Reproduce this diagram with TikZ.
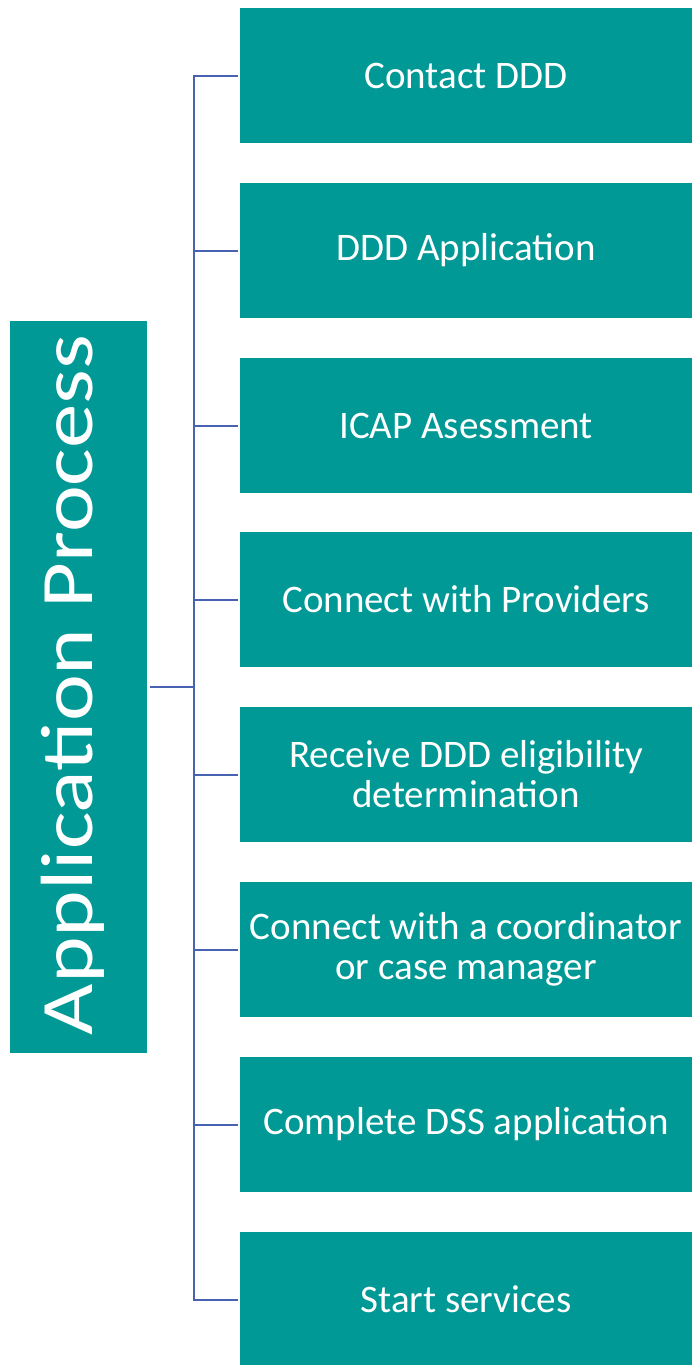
\documentclass[tikz,border=0pt]{standalone}
\usepackage{fontspec}
\setmainfont{Carlito}
\definecolor{tealbox}{RGB}{0,153,150}
\definecolor{linkblue}{RGB}{70,98,176}
\tikzset{
  stepbox/.style={fill=tealbox, draw=none, minimum width=452pt, minimum height=135pt,
    inner sep=0pt, text=white, align=center, font=\fontsize{39}{40}\selectfont},
  conn/.style={draw=linkblue, line width=2pt, line join=miter},
}
\begin{document}
\begin{tikzpicture}[x=1pt,y=-1pt]
\useasboundingbox (0,0) rectangle (692,1365);
% left box
\node[fill=tealbox, minimum width=137pt, minimum height=732.5pt, inner sep=0pt] (app) at (78.5,687) {};
\node[rotate=90, anchor=base, text=white, inner sep=0pt] (apptext) at (92,685)
  {\scalebox{1.2}[1]{\fontsize{74}{74}\selectfont Application Process}};
% right boxes
\node[stepbox] (b1) at (466,75.5) {Contact DDD};
\node[stepbox] (b2) at (466,250.5) {DDD Application};
\node[stepbox] (b3) at (466,425.5) {ICAP Asessment};
\node[stepbox] (b4) at (466,599.5) {Connect with Providers};
\node[stepbox] (b5) at (466,774.5) {Receive DDD eligibility\\determination};
\node[stepbox] (b6) at (466,949.5) {Connect with a coordinator\\or case manager};
\node[stepbox] (b7) at (466,1124.5) {Complete DSS application};
\node[stepbox] (b8) at (466,1299.5) {Start services};
% connectors
\coordinate (sx) at (194,0);
\draw[conn] ([xshift=-2pt]b1.west) -- (b1.west -| sx) -- (b8.west -| sx) -- ([xshift=-2pt]b8.west);
\foreach \b in {b2,b3,b4,b5,b6,b7}{
  \draw[conn] ([xshift=-2pt]\b.west) -- (\b.west -| sx);
}
\draw[conn] ([xshift=3pt]app.east) -- (app.east -| sx);
\end{tikzpicture}
\end{document}
